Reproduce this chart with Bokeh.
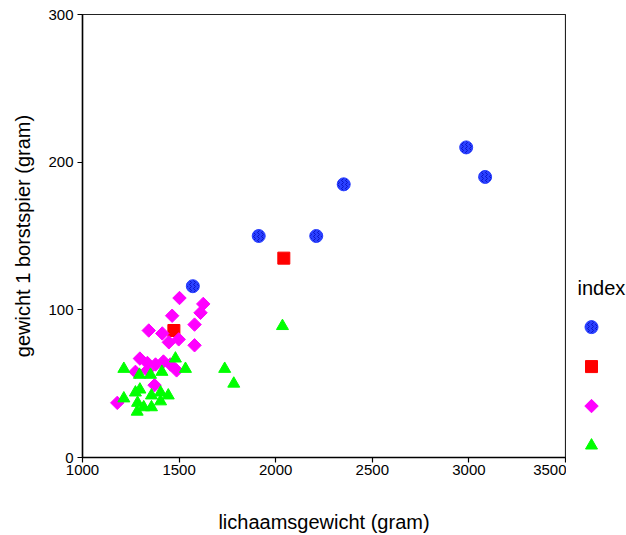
import math
from bokeh.plotting import figure
from bokeh.layouts import row
from bokeh.models import Range1d, FixedTicker, Label
from bokeh.embed import file_html
from bokeh.resources import INLINE

# group 1 (blue circles)
x_g1 = [1571, 1912, 2210, 2352, 2986, 3084]
y_g1 = [116, 150, 150, 185, 210, 190]
# group 2 (red squares)
x_g2 = [1473, 2042]
y_g2 = [86, 135]
# group 3 (magenta diamonds)
x_g3 = [1502, 1625, 1611, 1464, 1580, 1343, 1413, 1498, 1447, 1580,
        1297, 1336, 1378, 1419, 1455, 1274, 1336, 1487, 1373, 1180]
y_g3 = [108, 104, 98, 96, 90, 86, 84, 80, 78, 76,
        67, 64, 63, 65, 63, 58, 59, 59, 49, 37]
# group 4 (green triangles)
x_g4 = [1214, 1295, 1352, 1411, 1481, 1533, 1736, 1783, 2035, 1274,
        1297, 1214, 1357, 1404, 1444, 1285, 1404, 1317, 1357, 1283]
y_g4 = [60, 56, 56, 58, 67, 60, 60, 50, 89, 44,
        46, 40, 42, 44, 42, 37, 38, 34, 34, 31]

x_ticks = [1000, 1500, 2000, 2500, 3000, 3500]
y_ticks = [0, 100, 200, 300]
legend_index = [1, 2, 3, 4]

FONT = "Liberation Sans"

STYLES = [
    dict(marker="circle", size=13, fill_color="#2a40ff", line_color="#2a40ff",
         hatch_pattern="vertical_wave", hatch_color="#0a14c8", hatch_scale=4, hatch_weight=1),
    dict(marker="square", size=12, fill_color="#ff0000", line_color="#ff0000"),
    dict(marker="square", angle=math.pi / 4, size=9.5, fill_color="#ff00ff", line_color="#ff00ff"),
    dict(marker="triangle", size=12, fill_color="#00ff00", line_color="#00ff00"),
]

p = figure(width=566, height=535, output_backend="svg", toolbar_location=None,
           x_range=Range1d(1000, 3500), y_range=Range1d(0, 300),
           min_border_left=82, min_border_right=1, min_border_top=14, min_border_bottom=77)
p.grid.visible = False
p.outline_line_color = "#222222"
p.outline_line_width = 1.2

for ax in (p.xaxis[0], p.yaxis[0]):
    ax.axis_line_color = "black"
    ax.axis_line_width = 1.5
    ax.major_tick_line_color = "black"
    ax.major_tick_line_width = 1.2
    ax.major_tick_in = 0
    ax.major_tick_out = 5
    ax.minor_tick_line_color = None
    ax.major_label_text_font = FONT
    ax.major_label_text_font_size = "15px"
    ax.major_label_text_color = "black"
    ax.axis_label_text_font = FONT
    ax.axis_label_text_font_size = "20px"
    ax.axis_label_text_font_style = "normal"
    ax.axis_label_text_color = "black"

p.xaxis.ticker = FixedTicker(ticks=x_ticks)
p.yaxis.ticker = FixedTicker(ticks=y_ticks)
p.xaxis.axis_label = "lichaamsgewicht (gram)"
p.yaxis.axis_label = "gewicht 1 borstspier (gram)"
p.xaxis.major_label_standoff = 2
p.yaxis.major_label_standoff = 4
p.xaxis.axis_label_standoff = 33
p.yaxis.axis_label_standoff = 11

for xs, ys, st in zip((x_g1, x_g2, x_g3, x_g4), (y_g1, y_g2, y_g3, y_g4), STYLES):
    p.scatter(xs, ys, **st)

# legend panel: one key marker per index group, stacked downwards
lg = figure(width=60, height=535, output_backend="svg", toolbar_location=None,
            x_range=Range1d(-0.4167, 0.5833), y_range=Range1d(4.303, -6.918),
            x_axis_type=None, y_axis_type=None,
            min_border_left=0, min_border_right=0, min_border_top=14, min_border_bottom=77)
lg.grid.visible = False
lg.outline_line_color = None
for g, st in zip(legend_index, STYLES):
    lg.scatter([0], [g], **st)
lg.add_layout(Label(x=11, y=170, x_units="screen", y_units="screen", text="index",
                    text_font=FONT, text_font_size="20px", text_baseline="middle",
                    text_color="black"))

open("out.html", "w").write(file_html(row(p, lg), INLINE))
